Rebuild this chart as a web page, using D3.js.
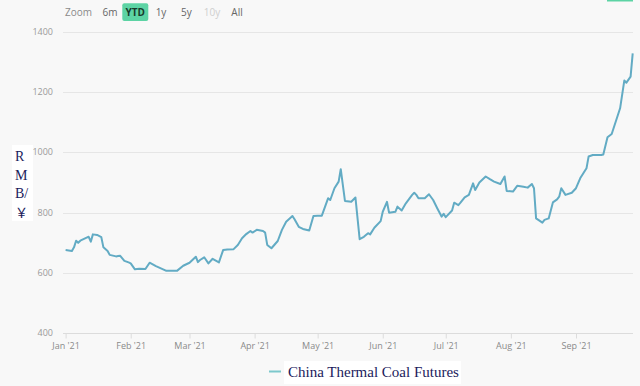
<!DOCTYPE html>
<html>
<head>
<meta charset="utf-8">
<script src="https://cdn.jsdelivr.net/npm/d3@7"></script>
<style>
  html, body { margin: 0; padding: 0; background: #f8f8f8; }
  svg { display: block; }
</style>
</head>
<body>
<svg id="chart" width="640" height="386"></svg>
<script>
// China Thermal Coal Futures, RMB / ton, 2021 YTD
var dates = [
  "2021-01-01","2021-01-04","2021-01-05","2021-01-06","2021-01-07","2021-01-08","2021-01-11","2021-01-12",
  "2021-01-13","2021-01-14","2021-01-16","2021-01-18","2021-01-19","2021-01-21","2021-01-22","2021-01-25",
  "2021-01-26","2021-01-27","2021-01-29","2021-01-31","2021-02-01","2021-02-03","2021-02-05","2021-02-08",
  "2021-02-10","2021-02-13","2021-02-18","2021-02-23","2021-02-26","2021-03-01","2021-03-04","2021-03-05",
  "2021-03-06","2021-03-08","2021-03-10","2021-03-12","2021-03-15","2021-03-17","2021-03-19","2021-03-22",
  "2021-03-24","2021-03-26","2021-03-28","2021-03-30","2021-03-31","2021-04-02","2021-04-05","2021-04-06",
  "2021-04-07","2021-04-09","2021-04-12","2021-04-14","2021-04-16","2021-04-19","2021-04-20","2021-04-22",
  "2021-04-24","2021-04-27","2021-04-29","2021-05-01","2021-05-03","2021-05-06","2021-05-07","2021-05-09",
  "2021-05-11","2021-05-12","2021-05-14","2021-05-17","2021-05-19","2021-05-21","2021-05-23","2021-05-25",
  "2021-05-26","2021-05-28","2021-05-31","2021-06-01","2021-06-03","2021-06-04","2021-06-07","2021-06-08",
  "2021-06-10","2021-06-12","2021-06-15","2021-06-16","2021-06-17","2021-06-18","2021-06-21","2021-06-23",
  "2021-06-25","2021-06-27","2021-06-29","2021-06-30","2021-07-01","2021-07-04","2021-07-05","2021-07-07",
  "2021-07-08","2021-07-10","2021-07-12","2021-07-14","2021-07-15","2021-07-17","2021-07-20","2021-07-22",
  "2021-07-24","2021-07-27","2021-07-29","2021-07-30","2021-08-02","2021-08-04","2021-08-07","2021-08-09",
  "2021-08-11","2021-08-12","2021-08-13","2021-08-16","2021-08-17","2021-08-19","2021-08-21","2021-08-23",
  "2021-08-24","2021-08-25","2021-08-27","2021-08-30","2021-09-01","2021-09-03","2021-09-06","2021-09-07",
  "2021-09-09","2021-09-13","2021-09-14","2021-09-16","2021-09-18","2021-09-22","2021-09-24","2021-09-25",
  "2021-09-27","2021-09-28"
];

var prices = [
  676, 673, 685, 707, 700, 707, 717, 720,
  704, 728, 726, 719, 685, 673, 660, 655,
  656, 657, 640, 635, 632, 612, 614, 613,
  634, 623, 607, 607, 624, 634, 654, 636,
  643, 652, 632, 647, 635, 676, 678, 679,
  693, 715, 729, 739, 734, 743, 739, 734,
  693, 682, 706, 743, 770, 789, 778, 753,
  746, 741, 789, 790, 790, 848, 842, 881,
  903, 944, 839, 836, 850, 712, 720, 732,
  728, 750, 772, 803, 836, 800, 803, 820,
  807, 831, 859, 866, 859, 848, 848, 861,
  842, 814, 787, 796, 785, 807, 833, 825,
  833, 851, 859, 897, 875, 900, 920, 911,
  903, 895, 920, 872, 870, 889, 886, 883,
  895, 881, 781, 767, 776, 781, 834, 844,
  853, 881, 859, 866, 881, 914, 947, 986,
  991, 991, 993, 1050, 1061, 1146, 1238, 1231,
  1251, 1328
];

var yTicks = [400, 600, 800, 1000, 1200, 1400];
var rangeButtons = ["6m", "YTD", "1y", "5y", "10y", "All"];
var yTitleLines = ["R", "M", "B/", "\uFFE5"];
var seriesName = "China Thermal Coal Futures";

var parse = d3.timeParse("%Y-%m-%d");
var data = dates.map(function (d, i) { return { date: parse(d), value: prices[i] }; });

var svg = d3.select("#chart");

var x = d3.scaleTime()
    .domain([parse("2021-01-01"), parse("2021-09-28")])
    .range([65.6, 632.7]);

var y = d3.scaleLinear()
    .domain([400, 1400])
    .range([333.3, 31.7]);

var sans = "'Open Sans', 'Noto Sans', sans-serif";
var serif = "'Liberation Serif', 'Times New Roman', serif";

// grid lines
svg.append("g")
  .selectAll("line")
  .data(yTicks.slice(1))
  .enter().append("line")
    .attr("x1", 63).attr("x2", 633)
    .attr("y1", function (d) { return Math.round(y(d)) + 0.5; })
    .attr("y2", function (d) { return Math.round(y(d)) + 0.5; })
    .attr("stroke", "#e6e6e6")
    .attr("stroke-width", 1);

// y labels
svg.append("g")
  .selectAll("text")
  .data(yTicks)
  .enter().append("text")
    .attr("x", 53)
    .attr("y", function (d) { return y(d); })
    .attr("dy", "0.35em")
    .attr("text-anchor", "end")
    .attr("font-family", sans)
    .attr("font-size", 9)
    .attr("fill", "#9a9a9a")
    .text(function (d) { return d; });

// x axis
var xAxis = d3.axisBottom(x)
    .ticks(d3.timeMonth.every(1))
    .tickFormat(d3.timeFormat("%b '%y"))
    .tickSize(5)
    .tickPadding(4);

var gx = svg.append("g")
    .attr("transform", "translate(0," + (Math.round(y(400)) + 0.5) + ")")
    .call(xAxis);

gx.select(".domain").attr("stroke", "#dcdcdc").attr("d", "M63,0H633");
gx.selectAll(".tick line").attr("stroke", "#dcdcdc");
gx.selectAll(".tick text")
    .attr("font-family", sans)
    .attr("font-size", 9)
    .attr("fill", "#8a8a8a");

// the series
var line = d3.line()
    .x(function (d) { return x(d.date); })
    .y(function (d) { return y(d.value); });

svg.append("path")
    .datum(data)
    .attr("d", line)
    .attr("fill", "none")
    .attr("stroke", "#62abc4")
    .attr("stroke-width", 2)
    .attr("stroke-linejoin", "round");

// range selector
svg.append("text")
    .attr("x", 65).attr("y", 16)
    .attr("font-family", sans).attr("font-size", 10)
    .attr("fill", "#8a8a8a")
    .text("Zoom");

var btnX = [110, 135.3, 161, 186.3, 212, 237];
var btn = svg.append("g").selectAll("g")
  .data(rangeButtons)
  .enter().append("g");

btn.filter(function (d) { return d === "YTD"; })
  .append("rect")
    .attr("x", 122.3).attr("y", 3.3)
    .attr("width", 26).attr("height", 17.7)
    .attr("rx", 2)
    .attr("fill", "#5cd3a4");

btn.append("text")
    .attr("x", function (d, i) { return btnX[i]; })
    .attr("y", 16)
    .attr("text-anchor", "middle")
    .attr("font-family", sans)
    .attr("font-size", 10)
    .attr("font-weight", function (d) { return d === "YTD" ? "bold" : "normal"; })
    .attr("fill", function (d) {
      if (d === "YTD") return "#173a2c";
      if (d === "10y") return "#cfcfcf";
      return "#666";
    })
    .text(function (d) { return d; });

// cropped button edge at the top right
svg.append("rect")
    .attr("x", 607).attr("y", 0)
    .attr("width", 26).attr("height", 1.5)
    .attr("fill", "#5cd3a4");

// y title, stacked
svg.append("rect")
    .attr("x", 12).attr("y", 145)
    .attr("width", 21).attr("height", 76)
    .attr("fill", "#ffffff");

svg.append("g")
  .selectAll("text")
  .data(yTitleLines)
  .enter().append("text")
    .attr("x", 15)
    .attr("y", function (d, i) { return 161 + i * 18.7; })
    .attr("font-family", function (d) { return d === "\uFFE5" ? "'Noto Sans CJK SC', sans-serif" : serif; })
    .attr("font-size", function (d) { return d === "\uFFE5" ? 13 : 14; })
    .attr("fill", "#1b1b5c")
    .text(function (d) { return d; });

// legend
var legend = svg.append("g");

legend.append("rect")
    .attr("x", 284).attr("y", 361)
    .attr("width", 177).attr("height", 23)
    .attr("fill", "#ffffff");

legend.append("line")
    .attr("x1", 269).attr("x2", 281)
    .attr("y1", 371.5).attr("y2", 371.5)
    .attr("stroke", "#7cc8cc")
    .attr("stroke-width", 2);

legend.append("text")
    .attr("x", 288)
    .attr("y", 377)
    .attr("font-family", serif)
    .attr("font-size", 15)
    .attr("fill", "#1b1b5c")
    .text(seriesName);
</script>
</body>
</html>
